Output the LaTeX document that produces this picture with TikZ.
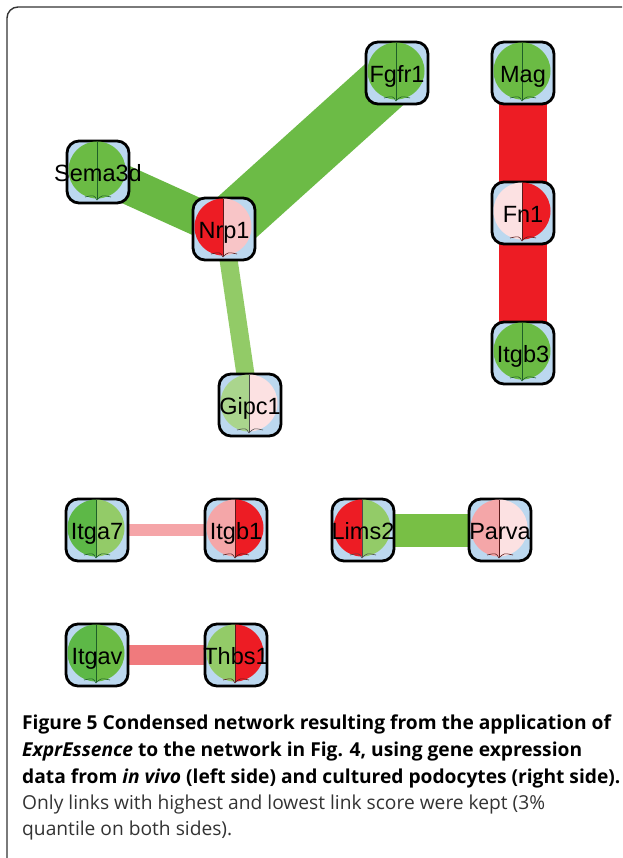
\documentclass[tikz,border=0pt]{standalone}
\usepackage{fontspec}
\setmainfont{Open Sans}
\newfontfamily\lab{Liberation Sans}
\usetikzlibrary{calc}
\pgfdeclarelayer{bg}
\pgfsetlayers{bg,main}
\definecolor{gmid}{HTML}{6BBB44}
\definecolor{gdark}{HTML}{5DB847}
\definecolor{glight}{HTML}{93CB68}
\definecolor{gpale}{HTML}{AAD58D}
\definecolor{rred}{HTML}{ED1C24}
\definecolor{rpink}{HTML}{F4A6A8}
\definecolor{rsoft}{HTML}{F8C5C7}
\definecolor{rpale}{HTML}{FCE1E2}
\definecolor{boxblue}{HTML}{BCD8EF}
\definecolor{eSema}{HTML}{69B843}
\definecolor{eFgf}{HTML}{6CBB46}
\definecolor{eGip}{HTML}{92CB67}
\definecolor{eLims}{HTML}{78BF45}
\definecolor{eItg}{HTML}{F5A5A8}
\definecolor{eThb}{HTML}{F07A7D}
\definecolor{capgray}{HTML}{333333}
\definecolor{divg}{HTML}{1E5E28}
\definecolor{divr}{HTML}{5A1A1A}
\tikzset{
  gbox/.style={draw=black, line width=2.8pt, fill=boxblue, rounded corners=12pt,
    minimum width=62pt, minimum height=62pt, inner sep=0pt},
  glabel/.style={font=\lab\fontsize{23.5}{24}\selectfont, anchor=base, inner sep=0pt, text=black},
  link/.style={line cap=butt},
  capbold/.style={anchor=base west, inner sep=0pt, font=\bfseries\fontsize{19.2}{22}\selectfont},
  capreg/.style={anchor=base west, inner sep=0pt, text=capgray, font=\fontsize{19.2}{22}\selectfont},
}
% #1 name, #2 x, #3 y, #4 left colour, #5 right colour, #6 label, #7 divider colour
\newcommand\genenode[7]{%
  \node[gbox] (#1) at (#2,#3) {};
  \begin{scope}
    \clip ($(#1.center)+(-40,-40)$) rectangle ($(#1.center)+(-1,40)$);
    \fill[#4] ($(#1.center)+(-1,-2)$) circle[radius=28.5];
  \end{scope}
  \begin{scope}
    \clip ($(#1.center)+(-1,-40)$) rectangle ($(#1.center)+(40,40)$);
    \fill[#5] ($(#1.center)+(-1,-2)$) circle[radius=28.5];
  \end{scope}
  \draw[#7, line width=1pt] ($(#1.center)+(-1,-30)$) -- ($(#1.center)+(-1,27)$);
  \draw[#7, line width=0.6pt] ($(#1.center)+(-13,25)$) .. controls ($(#1.center)+(-4,23)$) .. ($(#1.center)+(-1,28)$) .. controls ($(#1.center)+(4,23)$) .. ($(#1.center)+(13,25)$);
  \node[glabel] (#1-t) at ($(#1.center)+(0,9.5)$) {#6};
}
\begin{document}
\begin{tikzpicture}[x=1pt,y=-1pt]
\useasboundingbox (0,0) rectangle (622,858);
% frame
\draw[line width=1.4pt, capgray, rounded corners=11pt] (7,858) -- (7,7) -- (622,7);
% nodes
\genenode{Fgfr1}{397}{73}{gmid}{gmid}{Fgfr1}{divg}
\genenode{Mag}{523}{73}{gmid}{gmid}{Mag}{divg}
\genenode{Sema3d}{98}{172}{gmid}{gmid}{Sema3d}{divg}
\genenode{Nrp1}{224}{229}{rred}{rsoft}{Nrp1}{divr}
\genenode{Fn1}{523}{213}{rpale}{rred}{Fn1}{divr}
\genenode{Itgb3}{523}{353}{gmid}{gmid}{Itgb3}{divg}
\genenode{Gipc1}{250}{405}{gpale}{rpale}{Gipc1}{black!70}
\genenode{Itga7}{97}{530}{gdark}{glight}{Itga7}{divg}
\genenode{Itgb1}{236}{530}{rpink}{rred}{Itgb1}{divr}
\genenode{Lims2}{363}{530}{rred}{glight}{Lims2}{black!70}
\genenode{Parva}{500}{530}{rpink}{rpale}{Parva}{divr}
\genenode{Itgav}{97}{655}{gdark}{gmid}{Itgav}{divg}
\genenode{Thbs1}{236}{655}{glight}{rred}{Thbs1}{divr}
% links
\begin{pgfonlayer}{bg}
\draw[link, eSema, line width=37pt] (Sema3d.center) -- (Nrp1.center);
\draw[link, eFgf, line width=56pt, line cap=round] (Nrp1.center) -- (Fgfr1.center);
\draw[link, eGip, line width=18pt] (Nrp1.center) -- (Gipc1.center);
\draw[link, rred, line width=48pt] (Mag.center) -- (Fn1.center);
\draw[link, rred, line width=48pt] (Fn1.center) -- (Itgb3.center);
\draw[link, eItg, line width=12pt] (Itga7.center) -- (Itgb1.center);
\draw[link, eLims, line width=33pt] (Lims2.center) -- (Parva.center);
\draw[link, eThb, line width=20pt] (Itgav.center) -- (Thbs1.center);
\end{pgfonlayer}
% caption
\node[capbold] (c1) at (22,729) {Figure 5 Condensed network resulting from the application of};
\node[capbold] (c2) at (22,756) {\textit{ExprEssence} to the network in Fig. 4, using gene expression};
\node[capbold] (c3) at (22,783) {data from \textit{in vivo} (left side) and cultured podocytes (right side).};
\node[capreg] (c4) at (22,809) {Only links with highest and lowest link score were kept (3\%};
\node[capreg] (c5) at (22,835) {quantile on both sides).};
\end{tikzpicture}
\end{document}
